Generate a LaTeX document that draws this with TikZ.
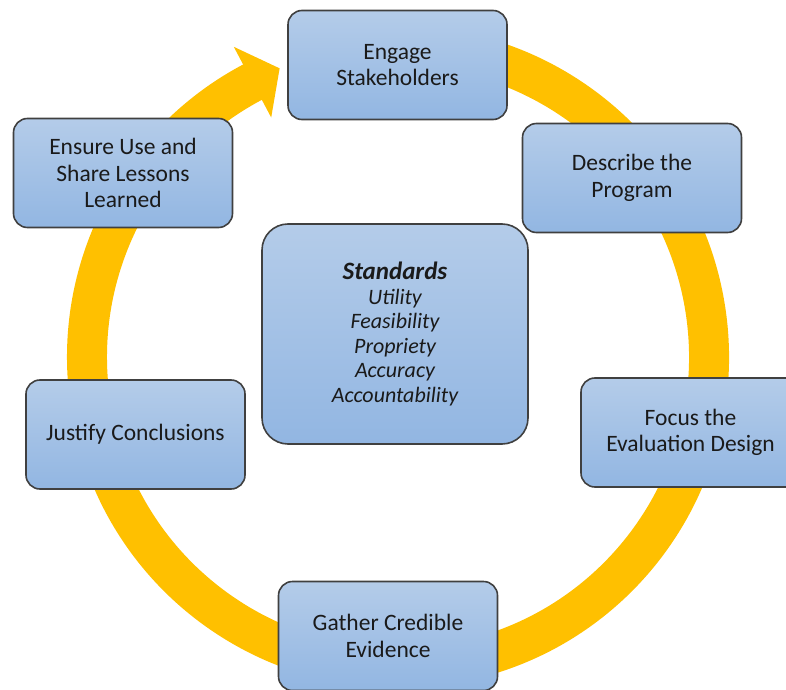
\documentclass[tikz,border=0pt]{standalone}
\usepackage{fontspec}
\setmainfont{Carlito}
\usetikzlibrary{calc}
\definecolor{ringgold}{HTML}{FFC000}
\definecolor{boxtop}{HTML}{B4CCE9}
\definecolor{boxbot}{HTML}{92B6E2}
\definecolor{boxline}{HTML}{404040}
\definecolor{txt}{HTML}{1A1A1A}
\begin{document}
\begin{tikzpicture}[x=1pt,y=1pt,
  stepbox/.style={draw=boxline, line width=1.6pt, rounded corners=14pt,
    top color=boxtop, bottom color=boxbot, minimum width=219pt,
    minimum height=109pt, align=center, text=txt,
    font=\fontsize{23.5}{26.5}\selectfont, inner sep=0pt},
  stdbox/.style={stepbox, rounded corners=26pt, minimum width=266pt,
    minimum height=220pt, font=\fontsize{22}{24.5}\selectfont\itshape}]
\useasboundingbox (0,0) rectangle (786,689);
% ring arrow
\coordinate (rc) at (398,332);
\draw[ringgold, line width=40pt] ($(rc)+(100:311)$) arc[start angle=100, end angle=-242.3, radius=311];
\fill[ringgold] ($(rc)+(117.9:351)$) -- ($(rc)+(112.3:312)$) -- ($(rc)+(117.9:271)$) -- cycle;
% boxes
\node[stepbox] (engage) at (397.5,624) {Engage\\Stakeholders};
\node[stepbox] (describe) at (632,511) {Describe the\\Program};
\node[stepbox] (focus) at (690.5,256.5) {Focus the\\Evaluation Design};
\node[stepbox] (gather) at (388,53) {Gather Credible\\Evidence};
\node[stepbox] (justify) at (135.5,254.5) {Justify Conclusions};
\node[stepbox] (ensure) at (123,516) {Ensure Use and\\Share Lessons\\Learned};
\node[stdbox] (standards) at (395,355) {{\fontsize{25}{24.5}\selectfont\textbf{Standards}}\\Utility\\Feasibility\\Propriety\\Accuracy\\Accountability};
\end{tikzpicture}
\end{document}
